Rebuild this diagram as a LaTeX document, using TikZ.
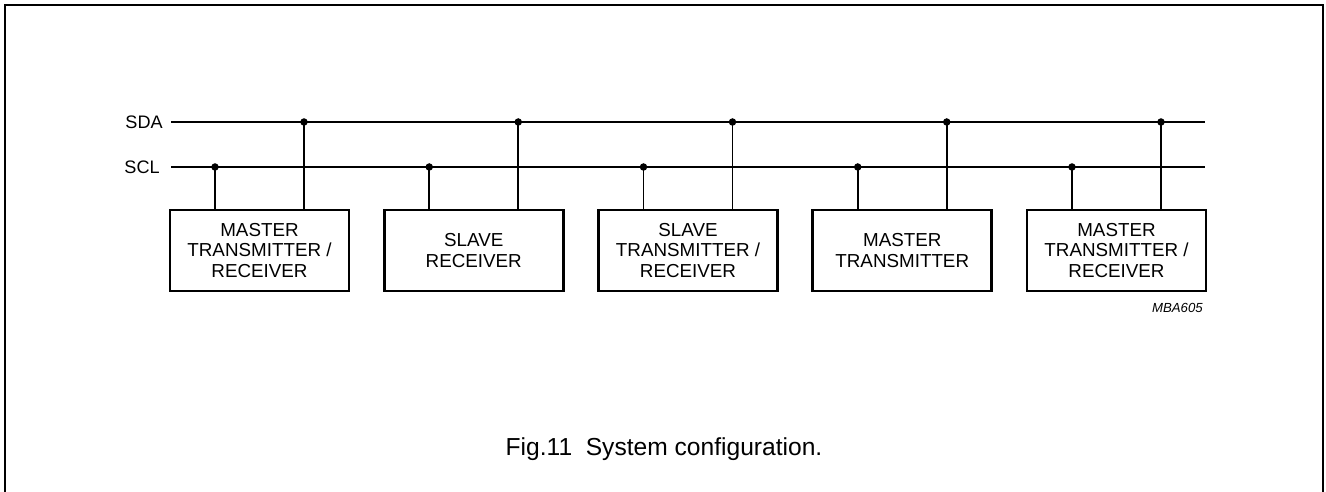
\documentclass[tikz,border=0pt]{standalone}
\usepackage{fontspec}
\setmainfont{Liberation Sans}
\usetikzlibrary{positioning}

\tikzset{
  unit/.style={draw, line width=1.5pt, minimum width=3.58cm, minimum height=1.62cm,
               align=center, inner sep=0pt, font=\fontsize{10.7}{11.8}\selectfont},
  busline/.style={line width=0.9pt},
  tap/.style={circle, fill=black, inner sep=0pt, minimum size=0.15cm},
  buslabel/.style={anchor=east, inner sep=0pt, font=\fontsize{10.3}{12}\selectfont}
}

\begin{document}
\begin{tikzpicture}[x=0.02cm, y=-0.02cm]
  \useasboundingbox (0,0) rectangle (1326,492);

  % frame
  \draw[line width=1.3pt] (5,492) -- (5,5) -- (1323,5) -- (1323,492);

  % bus lines
  \coordinate (sdaL) at (171,122);
  \coordinate (sdaR) at (1205,122);
  \coordinate (sclL) at (171,167);
  \coordinate (sclR) at (1205,167);
  \node[buslabel] (sda) at (163,122) {SDA};
  \node[buslabel] (scl) at (160,167) {SCL};
  \draw[busline] (sdaL) -- (sdaR);
  \draw[busline] (sclL) -- (sclR);

  % devices
  \node[unit] (mtr1) at (259.5,250.5) {MASTER\\TRANSMITTER /\\RECEIVER};
  \node[unit] (srx)  at (473.75,250.5) {SLAVE\\RECEIVER};
  \node[unit] (str)  at (688,250.5) {SLAVE\\TRANSMITTER /\\RECEIVER};
  \node[unit] (mtx)  at (902.25,250.5) {MASTER\\TRANSMITTER};
  \node[unit] (mtr2) at (1116.5,250.5) {MASTER\\TRANSMITTER /\\RECEIVER};

  % taps
  \node[tap] (c1) at (215,167) {};
  \node[tap] (d1) at (304,122) {};
  \node[tap] (c2) at (429.25,167) {};
  \node[tap] (d2) at (518.25,122) {};
  \node[tap] (c3) at (643.5,167) {};
  \node[tap] (d3) at (732.5,122) {};
  \node[tap] (c4) at (857.75,167) {};
  \node[tap] (d4) at (946.75,122) {};
  \node[tap] (c5) at (1072,167) {};
  \node[tap] (d5) at (1161,122) {};

  \draw[busline] (c1.center) -- (c1 |- mtr1.north);
  \draw[busline] (d1.center) -- (d1 |- mtr1.north);
  \draw[busline] (c2.center) -- (c2 |- srx.north);
  \draw[busline] (d2.center) -- (d2 |- srx.north);
  \draw[busline] (c3.center) -- (c3 |- str.north);
  \draw[busline] (d3.center) -- (d3 |- str.north);
  \draw[busline] (c4.center) -- (c4 |- mtx.north);
  \draw[busline] (d4.center) -- (d4 |- mtx.north);
  \draw[busline] (c5.center) -- (c5 |- mtr2.north);
  \draw[busline] (d5.center) -- (d5 |- mtr2.north);

  \node[anchor=east, inner sep=0pt, font=\fontsize{7.5}{9}\selectfont\itshape] (code) at (1203,308) {MBA605};

  % caption
  \node[font=\fontsize{14}{16}\selectfont] (caption) at (664,449) {Fig.11\ \ System configuration.};
\end{tikzpicture}
\end{document}
